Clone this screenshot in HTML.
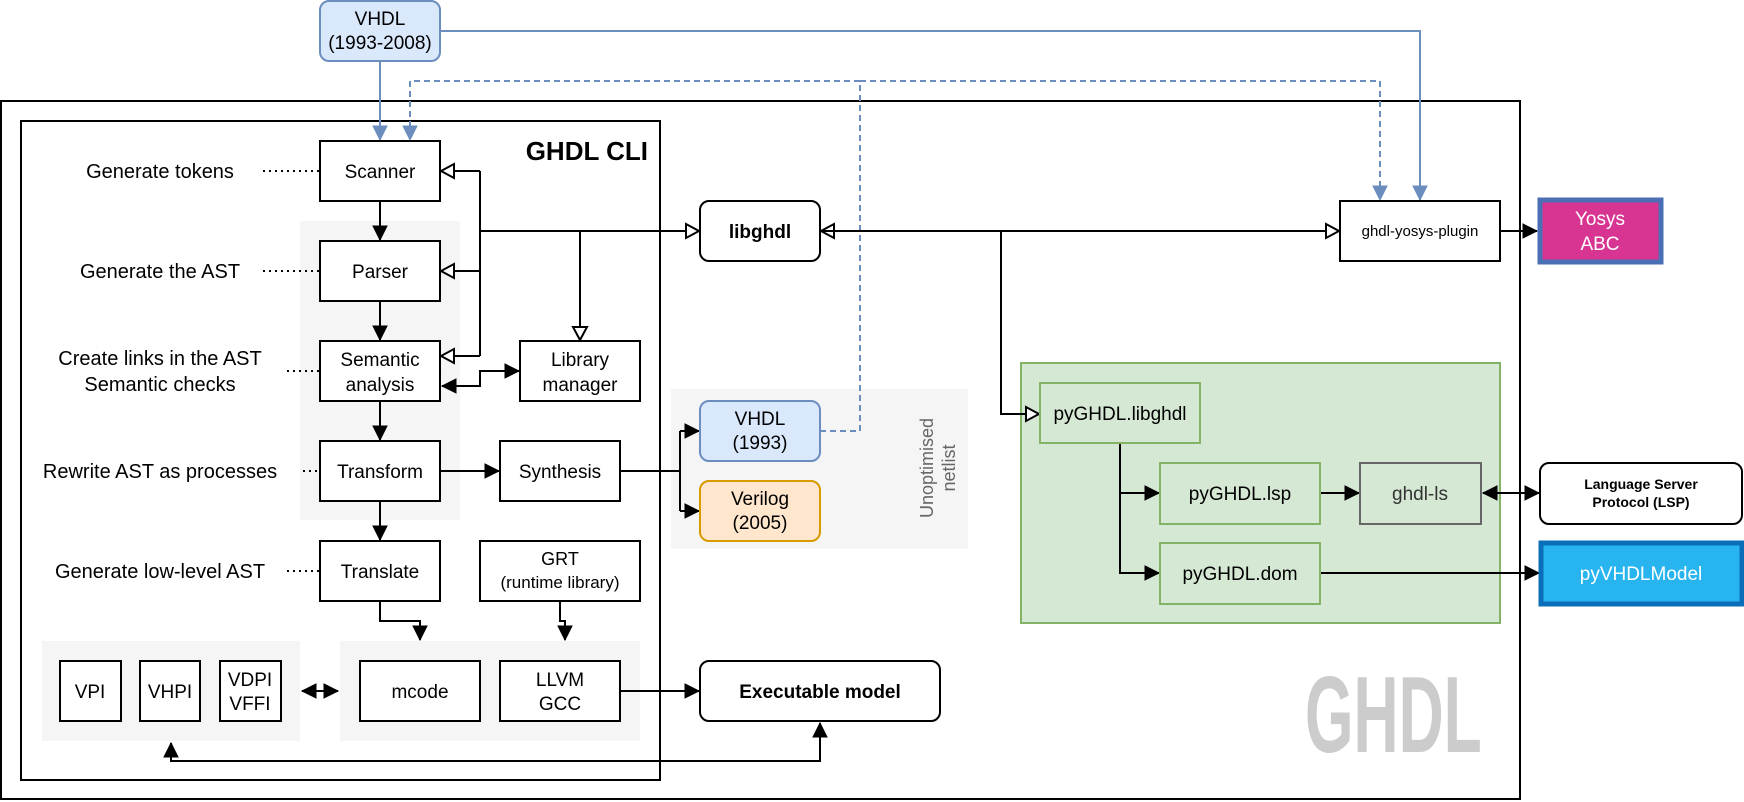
<!DOCTYPE html>
<html><head><meta charset="utf-8"><style>
html,body{margin:0;padding:0;background:#fff}
svg{display:block}
text{font-family:"Liberation Sans",sans-serif;fill:#000}
</style></head><body>
<svg width="1744" height="802" viewBox="0 0 1744 802" xmlns="http://www.w3.org/2000/svg">
<defs>
<marker id="f" markerUnits="userSpaceOnUse" markerWidth="18" markerHeight="18" refX="15" refY="9" orient="auto"><path d="M1,2 L15,9 L1,16 Z" fill="#000" stroke="#000"/></marker>
<marker id="fs" markerUnits="userSpaceOnUse" markerWidth="18" markerHeight="18" refX="3" refY="9" orient="auto"><path d="M17,2 L3,9 L17,16 Z" fill="#000" stroke="#000"/></marker>
<marker id="h" markerUnits="userSpaceOnUse" markerWidth="18" markerHeight="18" refX="15" refY="9" orient="auto"><path d="M2,2 L15,9 L2,16 Z" fill="#fff" stroke="#000" stroke-width="2"/></marker>
<marker id="b" markerUnits="userSpaceOnUse" markerWidth="18" markerHeight="18" refX="15" refY="9" orient="auto"><path d="M1,2 L15,9 L1,16 Z" fill="#6c8ebf" stroke="#6c8ebf"/></marker>
</defs>

<rect x="1" y="101" width="1519" height="698" fill="none" stroke="#000" stroke-width="2"/>
<rect x="21" y="121" width="639" height="659" fill="none" stroke="#000" stroke-width="2"/>
<text x="648" y="160" text-anchor="end" font-size="26" font-weight="bold">GHDL CLI</text>

<rect x="300" y="221" width="160" height="299" fill="#f5f5f5"/>
<rect x="42" y="641" width="258" height="100" fill="#f5f5f5"/>
<rect x="340" y="641" width="300" height="100" fill="#f5f5f5"/>
<rect x="671" y="389" width="297" height="160" fill="#f5f5f5"/>
<rect x="1021" y="363" width="479" height="260" fill="#d5e8d4" stroke="#82b366" stroke-width="2"/>

<text transform="translate(1305,752) scale(0.6,1.04)" font-size="104" font-weight="bold" style="fill:#cccccc">GHDL</text>

<path d="M440,31 H1420 V200" fill="none" stroke="#6c8ebf" stroke-width="2" marker-end="url(#b)"/>
<path d="M380,61 V140" fill="none" stroke="#6c8ebf" stroke-width="2" marker-end="url(#b)"/>
<path d="M820,431 H860 V81 H410 V140" fill="none" stroke="#6c8ebf" stroke-width="2" stroke-dasharray="6,4" marker-end="url(#b)"/>
<path d="M860,81 H1380 V200" fill="none" stroke="#6c8ebf" stroke-width="2" stroke-dasharray="6,4" marker-end="url(#b)"/>

<g fill="none" stroke="#000" stroke-width="2">
<path d="M380,201 V240" marker-end="url(#f)"/>
<path d="M380,301 V340" marker-end="url(#f)"/>
<path d="M380,401 V440" marker-end="url(#f)"/>
<path d="M380,501 V540" marker-end="url(#f)"/>
<path d="M440,471 H499" marker-end="url(#f)"/>
<path d="M480,171 V356"/>
<path d="M480,171 H441" marker-end="url(#h)"/>
<path d="M480,271 H441" marker-end="url(#h)"/>
<path d="M480,356 H441" marker-end="url(#h)"/>
<path d="M480,231 H699" marker-end="url(#h)"/>
<path d="M580,231 V340" marker-end="url(#h)"/>
<path d="M442,386 H480 V371 H519" marker-start="url(#fs)" marker-end="url(#f)"/>
<path d="M620,471 H680"/>
<path d="M680,431 V511"/>
<path d="M680,431 H699" marker-end="url(#f)"/>
<path d="M680,511 H699" marker-end="url(#f)"/>
<path d="M380,601 V621 H420 V640" marker-end="url(#f)"/>
<path d="M560,601 V621 H565 V640" marker-end="url(#f)"/>
<path d="M302,691 H338" marker-start="url(#fs)" marker-end="url(#f)"/>
<path d="M620,691 H699" marker-end="url(#f)"/>
<path d="M171,743 V761 H820 V723" marker-start="url(#fs)" marker-end="url(#f)"/>
<path d="M1340,231 H821" marker-end="url(#h)"/>
<path d="M820,231 H1339" marker-end="url(#h)"/>
<path d="M1001,231 V414 H1039" marker-end="url(#h)"/>
<path d="M1500,231 H1537" marker-end="url(#f)"/>
<path d="M1120,443 V573 H1159" marker-end="url(#f)"/>
<path d="M1120,493 H1159" marker-end="url(#f)"/>
<path d="M1320,493 H1359" marker-end="url(#f)"/>
<path d="M1483,493 H1539" marker-start="url(#fs)" marker-end="url(#f)"/>
<path d="M1320,573 H1539" marker-end="url(#f)"/>
</g>
<g stroke="#000" stroke-width="2" stroke-dasharray="2,4">
<path d="M263,171 H320"/><path d="M263,271 H320"/><path d="M287,371 H320"/><path d="M303,471 H320"/><path d="M287,571 H320"/>
</g>

<g fill="#fff" stroke="#000" stroke-width="2">
<rect x="320" y="141" width="120" height="60"/>
<rect x="320" y="241" width="120" height="60"/>
<rect x="320" y="341" width="120" height="60"/>
<rect x="520" y="341" width="120" height="60"/>
<rect x="320" y="441" width="120" height="60"/>
<rect x="500" y="441" width="120" height="60"/>
<rect x="320" y="541" width="120" height="60"/>
<rect x="480" y="541" width="160" height="60"/>
<rect x="60" y="661" width="61" height="60"/>
<rect x="140" y="661" width="60" height="60"/>
<rect x="220" y="661" width="61" height="60"/>
<rect x="360" y="661" width="120" height="60"/>
<rect x="500" y="661" width="120" height="60"/>
<rect x="700" y="661" width="240" height="60" rx="9"/>
<rect x="700" y="201" width="120" height="60" rx="9"/>
<rect x="1340" y="201" width="160" height="60"/>
<rect x="1540" y="463" width="202" height="61" rx="9"/>
</g>
<rect x="320" y="1" width="120" height="60" rx="9" fill="#dae8fc" stroke="#6c8ebf" stroke-width="2"/>
<rect x="700" y="401" width="120" height="60" rx="9" fill="#dae8fc" stroke="#6c8ebf" stroke-width="2"/>
<rect x="700" y="481" width="120" height="60" rx="9" fill="#ffe6cc" stroke="#d79b00" stroke-width="2"/>
<rect x="1540" y="200" width="121" height="62" fill="#d83592" stroke="#4a6fb5" stroke-width="5"/>
<rect x="1541" y="543" width="201" height="61" fill="#27b4ef" stroke="#0a6fb8" stroke-width="5"/>
<g fill="#d5e8d4" stroke="#82b366" stroke-width="2">
<rect x="1040" y="383" width="160" height="60"/>
<rect x="1160" y="463" width="160" height="61"/>
<rect x="1160" y="543" width="160" height="61"/>
</g>
<rect x="1360" y="463" width="121" height="61" fill="#d5e8d4" stroke="#666" stroke-width="2"/>

<g font-size="19" text-anchor="middle">
<text x="380" y="25">VHDL</text><text x="380" y="49">(1993-2008)</text>
<text x="380" y="178">Scanner</text>
<text x="380" y="278">Parser</text>
<text x="380" y="366">Semantic</text><text x="380" y="391">analysis</text>
<text x="580" y="366">Library</text><text x="580" y="391">manager</text>
<text x="380" y="478">Transform</text>
<text x="560" y="478">Synthesis</text>
<text x="380" y="578">Translate</text>
<text x="560" y="565" font-size="18">GRT</text><text x="560" y="588" font-size="17">(runtime library)</text>
<text x="90" y="698">VPI</text><text x="170" y="698">VHPI</text>
<text x="250" y="686">VDPI</text><text x="250" y="710">VFFI</text>
<text x="420" y="698">mcode</text>
<text x="560" y="686">LLVM</text><text x="560" y="710">GCC</text>
<text x="820" y="698" font-weight="bold">Executable model</text>
<text x="760" y="238" font-weight="bold">libghdl</text>
<text x="760" y="425">VHDL</text><text x="760" y="449">(1993)</text>
<text x="760" y="505">Verilog</text><text x="760" y="529">(2005)</text>
<g font-size="20">
<text x="160" y="178">Generate tokens</text>
<text x="160" y="278">Generate the AST</text>
<text x="160" y="365">Create links in the AST</text>
<text x="160" y="391">Semantic checks</text>
<text x="160" y="478">Rewrite AST as processes</text>
<text x="160" y="578">Generate low-level AST</text>
</g>
<text x="1420" y="236" font-size="15">ghdl-yosys-plugin</text>
<text x="1600" y="225" style="fill:#fff">Yosys</text><text x="1600" y="250" style="fill:#fff">ABC</text>
<text x="1120" y="420">pyGHDL.libghdl</text>
<text x="1240" y="500">pyGHDL.lsp</text>
<text x="1420" y="500" style="fill:#333">ghdl-ls</text>
<text x="1240" y="580">pyGHDL.dom</text>
<text x="1641" y="489" font-size="14" font-weight="bold">Language Server</text>
<text x="1641" y="507" font-size="14" font-weight="bold">Protocol (LSP)</text>
<text x="1641" y="580" style="fill:#fff">pyVHDLModel</text>
</g>
<g transform="translate(939,468) rotate(-90)" text-anchor="middle" font-size="18">
<text x="0" y="-6" style="fill:#666">Unoptimised</text>
<text x="0" y="16" style="fill:#666">netlist</text>
</g>
</svg>
</body></html>
